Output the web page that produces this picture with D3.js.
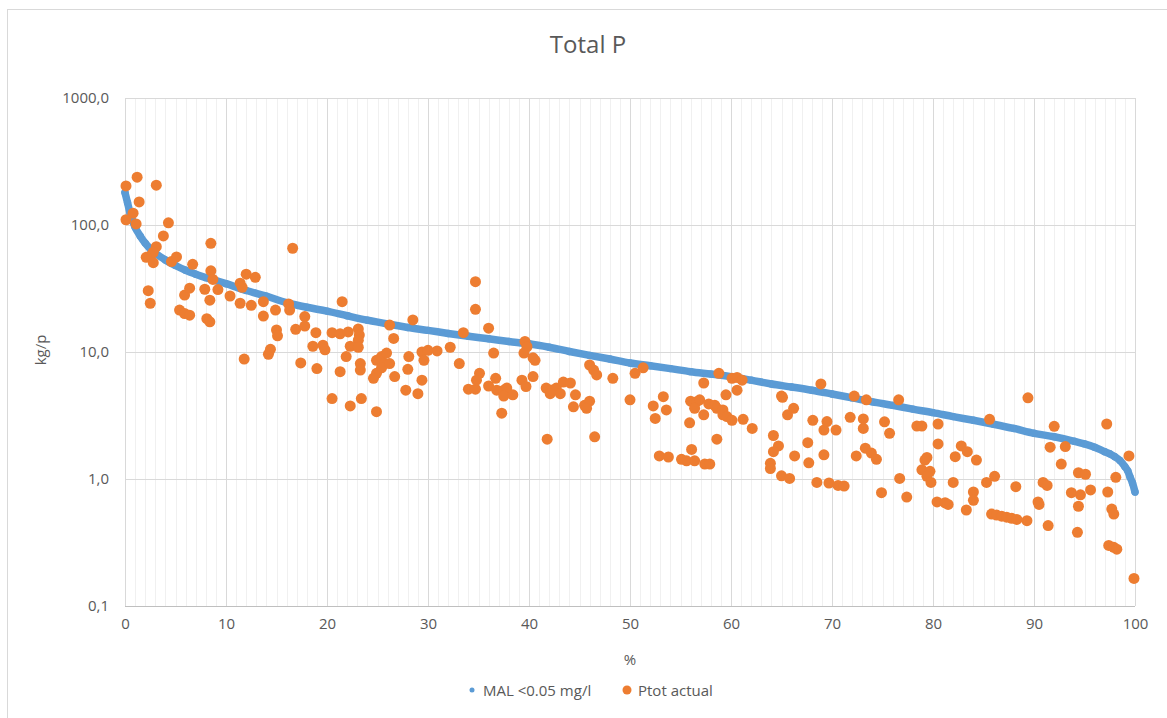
<!DOCTYPE html>
<html>
<head>
<meta charset="utf-8">
<script src="https://cdn.jsdelivr.net/npm/d3@7"></script>
<style>
  html, body { margin: 0; padding: 0; background: #fff; }
  svg { display: block; font-family: "Open Sans", "Noto Sans", sans-serif; }
</style>
</head>
<body>
<svg id="chart" width="1167" height="718"></svg>
<script>
// ---- data ----
const title = "Total P";
const xLabel = "%";
const yLabel = "kg/p";
const seriesNames = ["MAL <0.05 mg/l", "Ptot actual"];
const xTicks = [0, 10, 20, 30, 40, 50, 60, 70, 80, 90, 100];
const yTicks = [0.1, 1, 10, 100, 1000];

// MAL <0.05 mg/l (sorted exceedance curve)
const malX = [0, 0.25, 0.5, 0.75, 1, 1.5, 2, 2.5, 3, 4, 5, 6, 7, 8, 9, 10, 12, 14, 16, 18, 20, 22, 24, 26, 28, 30, 32, 34, 36, 38, 40, 42, 44, 46, 48, 50, 52, 54, 56, 58, 60, 62, 64, 66, 68, 70, 72, 74, 76, 78, 80, 82, 84, 86, 88, 90, 92, 94, 95, 96, 97, 97.5, 98, 98.5, 99, 99.3, 99.5, 99.75, 100];
const malY = [180, 150, 124, 108, 96, 82, 72, 65, 60, 53, 48, 44, 41, 38.5, 36.5, 34.5, 30.5, 27.5, 24.5, 22.5, 21, 19.3, 17.8, 16.6, 15.6, 14.8, 14, 13.3, 12.7, 12.1, 11.6, 10.9, 10.1, 9.4, 8.8, 8.2, 7.8, 7.4, 7.0, 6.7, 6.4, 6.0, 5.6, 5.3, 5.0, 4.67, 4.35, 4.05, 3.8, 3.55, 3.33, 3.1, 2.9, 2.7, 2.5, 2.29, 2.15, 1.98, 1.89, 1.78, 1.64, 1.58, 1.5, 1.4, 1.25, 1.15, 1.04, 0.93, 0.79];

// Ptot actual
const ptotX = [0.1, 1.2, 3.1, 1.4, 0.8, 0.1, 1.1, 4.3, 3.8, 3.1, 2.8, 2.5, 2.1, 2.8, 4.6, 5.1, 6.7, 8.5, 8.5, 8.7, 7.9, 8.4, 9.2, 2.3, 2.5, 5.9, 6.4, 5.4, 5.9, 6.4, 8.1, 8.4,
  10.4, 11.4, 11.6, 12, 12.9, 11.4, 12.5, 13.7, 13.7, 14.9, 16.2, 16.3, 16.6, 17.8, 11.8, 14.2, 14.4, 15, 15.1, 16.9, 17.8, 17.4, 18.9, 18.6, 19, 19.6, 19.8,
  21.5, 28.5, 26.2, 20.5, 21.3, 22.1, 23.1, 23.2, 23.1, 26.6, 21.9, 22.3, 23.1, 23.3, 23.3, 21.3, 20.5, 22.3, 23.4, 24.9, 24.9, 25.4, 25.9, 25.7, 25.4, 24.9, 24.6, 26.2, 26.7, 28.1, 28, 27.8, 29, 29.4, 29.4, 29.6,
  30, 30.9, 32.2, 33.1, 33.5, 34.7, 34.7, 36, 36.5, 39.6, 39.8, 39.5, 34, 34.7, 35.1, 34.8, 36, 36.7, 36.8, 37.5, 37.8, 37.5, 38.4, 37.3, 39.3, 39.7,
  40.4, 40.6, 40.4, 41.7, 42.2, 42.7, 43.1, 42.1, 43.4, 44.1, 44.6, 44.4, 45.5, 46, 45.7, 41.8, 46.5, 46, 46.4, 46.7, 48.3,
  50.5, 51.3, 50, 52.3, 52.5, 53.3, 53.6, 52.9, 53.8, 55.9, 56.1, 55.1, 55.6, 56.4, 57.4, 57.9, 56, 56.6, 56.9, 56.4, 57.3, 57.8, 58.4, 58.6, 59.2, 59.2, 59.6, 60.1, 57.3, 58.6, 58.8, 59.5,
  60.6, 60.1, 60.6, 61.1, 61.2, 62.1, 65, 65.1, 66.2, 65.6, 64.2, 64.7, 64.2, 63.9, 63.9, 65, 65.8, 66.3, 67.7, 67.6, 68.1, 69.2, 69.5, 70.4, 68.9, 69.2, 68.5, 69.7, 70.6, 71.2,
  71.8, 73.1, 73.1, 72.4, 73.3, 73.9, 74.4, 72.2, 73.4, 75.2, 75.7, 74.9, 76.6, 76.7, 77.4, 78.4, 78.9, 80.5, 80.5, 79.4, 79.2, 78.9, 79.7, 79.4, 79.8,
  80.4, 81.2, 81.5, 82.2, 82, 82.8, 83.4, 84.3, 84, 84, 83.3, 85.3, 86.1, 85.6, 85.8, 86.3, 86.8, 87.3, 87.8, 88.3, 89.3, 88.2, 89.4,
  90.9, 91.3, 90.4, 90.5, 91.4, 92, 91.6, 93.1, 92.7, 93.7, 94.6, 94.4, 94.3, 94.4, 95.1, 95.6, 97.2, 97.3, 97.7, 97.9, 97.4, 97.9, 98.2, 98.1, 99.4, 99.9];
const ptotY = [203, 238, 206, 152, 124, 110, 102, 104, 82, 67.5, 61, 57, 55.7, 50.5, 51.5, 56, 49, 71.8, 43.6, 37.3, 31.2, 25.6, 31, 30.4, 24.2, 28.1, 31.8, 21.4, 20.1, 19.5, 18.3, 17.3,
  27.6, 34.8, 32.3, 41, 38.7, 24.2, 23.3, 24.9, 19.2, 21.4, 23.9, 21.4, 65.6, 19, 8.8, 9.6, 10.5, 14.9, 13.4, 15.1, 16, 8.2, 14.2, 11.1, 7.4, 11.3, 10.4,
  24.9, 17.9, 16.3, 14.2, 13.9, 14.4, 15.2, 13.6, 12.4, 12.8, 9.2, 11.1, 10.9, 8.1, 7.2, 7, 4.3, 3.76, 4.3, 3.39, 8.6, 9.2, 9.8, 8.1, 7.5, 6.8, 6.2, 8.1, 6.4, 9.2, 7.3, 5.0, 4.7, 6.0, 10, 8.6,
  10.3, 10.2, 10.9, 8.1, 14.2, 35.8, 21.7, 15.4, 9.8, 12.1, 11, 9.8, 5.1, 5.1, 6.8, 6.0, 5.4, 6.2, 5.0, 5.0, 5.2, 4.5, 4.6, 3.3, 6.0, 5.35,
  6.4, 8.6, 9.0, 5.2, 5.0, 5.2, 4.7, 4.7, 5.8, 5.7, 4.6, 3.7, 3.8, 4.1, 3.6, 2.06, 2.15, 7.9, 7.2, 6.6, 6.2,
  6.8, 7.5, 4.2, 3.76, 3.0, 4.45, 3.5, 1.52, 1.49, 2.77, 1.71, 1.43, 1.39, 1.39, 1.31, 1.31, 4.1, 4.06, 4.2, 3.6, 3.2, 3.9, 3.8, 3.6, 3.5, 3.2, 3.1, 2.9, 5.7, 2.06, 6.8, 4.6,
  5.0, 6.2, 6.3, 6.0, 2.95, 2.5, 4.5, 4.4, 3.6, 3.2, 2.2, 1.82, 1.64, 1.33, 1.21, 1.06, 1.01, 1.52, 1.34, 1.93, 2.9, 2.43, 2.83, 2.43, 5.6, 1.55, 0.94, 0.93, 0.89, 0.88,
  3.06, 2.97, 2.5, 1.52, 1.75, 1.6, 1.43, 4.5, 4.2, 2.82, 2.29, 0.78, 4.2, 1.01, 0.72, 2.61, 2.61, 2.71, 1.89, 1.48, 1.41, 1.18, 1.15, 1.05, 0.94,
  0.66, 0.65, 0.63, 1.5, 0.94, 1.82, 1.64, 1.41, 0.79, 0.68, 0.57, 0.94, 1.05, 2.95, 0.53, 0.52, 0.51, 0.50, 0.49, 0.48, 0.47, 0.87, 4.36,
  0.94, 0.89, 0.66, 0.63, 0.43, 2.6, 1.78, 1.8, 1.31, 0.78, 0.75, 0.61, 0.38, 1.12, 1.09, 0.82, 2.71, 0.79, 0.58, 0.53, 0.30, 0.29, 0.28, 1.03, 1.52, 0.165];

const colors = ["#5B9BD5", "#ED7D31"];

// ---- chart ----
const svg = d3.select("#chart");
const W = 1167, H = 718;
const plot = { left: 125, right: 1135, top: 98, bottom: 606 };

const x = d3.scaleLinear().domain([0, 100]).range([plot.left, plot.right]);
const y = d3.scaleLog().domain([0.1, 1000]).range([plot.bottom, plot.top]);

const locale = d3.formatLocale({ decimal: ",", thousands: "", grouping: [3], currency: ["", ""] });
const fmt = locale.format(".1f");

// chart area border
svg.append("rect")
  .attr("x", 7.5).attr("y", 9.5)
  .attr("width", W + 10).attr("height", H + 10)
  .attr("fill", "#fff").attr("stroke", "#d9d9d9").attr("stroke-width", 1);

const grid = svg.append("g");
// minor vertical gridlines (every 1 unit)
grid.selectAll("line.minor")
  .data(d3.range(0, 101).filter(d => d % 10 !== 0))
  .join("line")
  .attr("x1", d => Math.round(x(d)) + 0.5).attr("x2", d => Math.round(x(d)) + 0.5)
  .attr("y1", plot.top).attr("y2", plot.bottom)
  .attr("stroke", "#f0f0f0").attr("stroke-width", 1);
// major vertical gridlines
grid.selectAll("line.vmaj")
  .data(xTicks)
  .join("line")
  .attr("x1", d => Math.round(x(d)) + 0.5).attr("x2", d => Math.round(x(d)) + 0.5)
  .attr("y1", plot.top).attr("y2", plot.bottom)
  .attr("stroke", "#d9d9d9").attr("stroke-width", 1);
// horizontal gridlines
grid.selectAll("line.hmaj")
  .data(yTicks)
  .join("line")
  .attr("x1", plot.left).attr("x2", plot.right)
  .attr("y1", d => Math.round(y(d)) + 0.5).attr("y2", d => Math.round(y(d)) + 0.5)
  .attr("stroke", d => d === 0.1 ? "#bfbfbf" : "#d9d9d9").attr("stroke-width", 1);

// axes (labels only, Excel style)
const xAxis = d3.axisBottom(x).tickValues(xTicks).tickSize(0).tickPadding(12).tickFormat(d3.format("d"));
svg.append("g")
  .attr("transform", `translate(0,${plot.bottom})`)
  .call(xAxis)
  .call(g => g.select(".domain").remove())
  .call(g => g.selectAll("text").attr("fill", "#595959").attr("font-size", 15).attr("font-family", "Open Sans, sans-serif"));

const yAxis = d3.axisLeft(y).tickValues(yTicks).tickSize(0).tickPadding(16).tickFormat(fmt);
svg.append("g")
  .attr("transform", `translate(${plot.left},0)`)
  .call(yAxis)
  .call(g => g.select(".domain").remove())
  .call(g => g.selectAll("text").attr("fill", "#595959").attr("font-size", 15).attr("font-family", "Open Sans, sans-serif"));

// MAL series: dense markers forming a band
const malData = malX.map((d, i) => [d, malY[i]]);
svg.append("path")
  .datum(malData)
  .attr("d", d3.line().x(d => x(d[0])).y(d => y(d[1])).curve(d3.curveMonotoneX))
  .attr("fill", "none").attr("stroke", colors[0]).attr("stroke-width", 7.5)
  .attr("stroke-linecap", "round").attr("stroke-linejoin", "round");
svg.append("g").selectAll("circle")
  .data(malData)
  .join("circle")
  .attr("cx", d => x(d[0])).attr("cy", d => y(d[1])).attr("r", 3.7)
  .attr("fill", colors[0]);

// Ptot actual series
const ptotData = ptotX.map((d, i) => [d, ptotY[i]]);
svg.append("g").selectAll("circle")
  .data(ptotData)
  .join("circle")
  .attr("cx", d => x(d[0])).attr("cy", d => y(d[1])).attr("r", 5.5)
  .attr("fill", colors[1]);

// title
svg.append("text")
  .attr("x", 588).attr("y", 53)
  .attr("text-anchor", "middle")
  .attr("font-size", 24).attr("fill", "#595959")
  .text(title);

// axis titles
svg.append("text")
  .attr("x", 630).attr("y", 665)
  .attr("text-anchor", "middle")
  .attr("font-size", 15).attr("fill", "#595959")
  .text(xLabel);
svg.append("text")
  .attr("transform", "translate(46,350) rotate(-90)")
  .attr("text-anchor", "middle")
  .attr("font-size", 15).attr("fill", "#595959")
  .text(yLabel);

// legend
const legend = svg.append("g");
const legendItems = [
  { name: seriesNames[0], color: colors[0], r: 2.5, cx: 472, tx: 483 },
  { name: seriesNames[1], color: colors[1], r: 4.5, cx: 627, tx: 638 }
];
legendItems.forEach(it => {
  legend.append("circle").attr("cx", it.cx).attr("cy", 690).attr("r", it.r).attr("fill", it.color);
  legend.append("text").attr("x", it.tx).attr("y", 695.5)
    .attr("font-size", 15).attr("fill", "#595959").text(it.name);
});
</script>
</body>
</html>
